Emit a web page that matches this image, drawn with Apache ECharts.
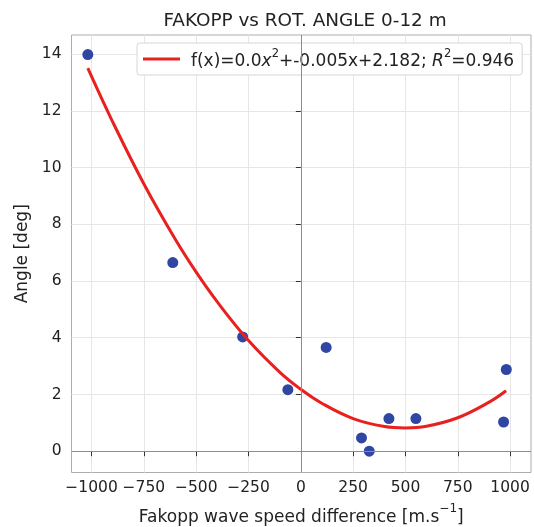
<!DOCTYPE html>
<html>
<head>
<meta charset="utf-8">
<script src="https://cdn.jsdelivr.net/npm/echarts@6/dist/echarts.min.js"></script>
<style>
html,body{margin:0;padding:0;background:#fff;}
#chart{width:534px;height:527px;}
</style>
</head>
<body>
<div id="chart"></div>
<script>
// Measured data points (Fakopp wave speed difference vs angle)
var speedDiff = [-1018, -612, -278, -62, 121, 290, 327, 421, 550, 969, 982];
var angleDeg  = [13.98, 6.65, 4.03, 2.17, 3.66, 0.47, 0.0, 1.15, 1.15, 1.03, 2.88];

// Fitted curve
var fitX = [-1018, -900, -750, -600, -500, -400, -250, -100, 0, 100, 250, 400, 500, 600, 750, 900, 981];
var fitY = [13.5, 11.62, 9.42, 7.47, 6.31, 5.27, 3.9, 2.78, 2.18, 1.69, 1.15, 0.87, 0.82, 0.88, 1.18, 1.73, 2.13];

var xTicks = [-1000, -750, -500, -250, 0, 250, 500, 750, 1000];
var yTicks = [0, 2, 4, 6, 8, 10, 12, 14];

var titleText = 'FAKOPP vs ROT. ANGLE 0-12 m';
var fitName = 'fit';

var FONT = 'DejaVu Sans';
var chart = echarts.init(document.getElementById('chart'), null, {renderer: 'canvas'});

function fmt(v) { return v < 0 ? '\u2212' + Math.abs(v) : String(v); }

var gridColor = '#e6e6e6';
var option = {
  backgroundColor: '#ffffff',
  animation: false,
  title: {
    text: titleText,
    left: 300, top: 7, textAlign: 'center',
    textStyle: {fontFamily: FONT, fontSize: 18.4, fontWeight: 'normal', color: '#222'}
  },
  grid: {
    left: 71.5, right: 3, top: 35, bottom: 54.5,
    outerBoundsMode: 'none', containLabel: false,
    show: true, borderColor: '#adadad', borderWidth: 1, backgroundColor: 'transparent'
  },
  legend: {
    data: [fitName],
    left: 137, top: 43,
    padding: [5, 8, 5, 6],
    backgroundColor: '#fff',
    borderColor: '#d6d6d6', borderWidth: 1, borderRadius: 3,
    icon: 'rect', itemWidth: 37, itemHeight: 3,
    formatter: function () {
      return '{n|f(x)=0.0}{i|x}{s|2}{n|+-0.005x+2.182; }{i|R}{s|2}{n|=0.946}';
    },
    textStyle: {
      fontFamily: FONT, fontSize: 17, color: '#222', padding: [0, 0, 0, 6],
      rich: {
        n: {fontFamily: FONT, fontSize: 17, color: '#222', lineHeight: 22, verticalAlign: 'bottom'},
        i: {fontFamily: FONT, fontSize: 17, fontStyle: 'italic', color: '#222', lineHeight: 22, verticalAlign: 'bottom'},
        s: {fontFamily: FONT, fontSize: 11.5, color: '#222', verticalAlign: 'top', lineHeight: 12}
      }
    }
  },
  xAxis: {
    type: 'value', min: -1096, max: 1100,
    name: '{n|Fakopp wave speed difference [m.s}{s|\u22121}{n|]}',
    nameLocation: 'middle', nameGap: 30,
    nameTextStyle: {
      fontFamily: FONT, fontSize: 17, color: '#222',
      rich: {
        n: {fontFamily: FONT, fontSize: 17, color: '#222', lineHeight: 24, verticalAlign: 'bottom'},
        s: {fontFamily: FONT, fontSize: 12, color: '#222', verticalAlign: 'top', lineHeight: 13}
      }
    },
    axisLine: {show: false},
    axisTick: {show: true, customValues: xTicks, length: 5, lineStyle: {color: '#333', width: 1}},
    axisLabel: {customValues: xTicks, formatter: fmt, margin: 7, fontFamily: FONT, fontSize: 15.5, color: '#222'},
    splitLine: {show: true, lineStyle: {color: gridColor, width: 1}}
  },
  yAxis: {
    type: 'value', min: -0.75, max: 14.67,
    name: 'Angle [deg]',
    nameLocation: 'middle', nameGap: 39,
    nameTextStyle: {fontFamily: FONT, fontSize: 17, color: '#222'},
    axisLine: {show: false},
    axisTick: {show: true, customValues: yTicks, length: 5, lineStyle: {color: '#333', width: 1}},
    axisLabel: {customValues: yTicks, formatter: fmt, margin: 10, fontFamily: FONT, fontSize: 15.5, color: '#222'},
    splitLine: {show: true, lineStyle: {color: gridColor, width: 1}}
  },
  series: [
    {
      name: 'zero', type: 'line', data: [], z: 1, silent: true,
      markLine: {
        silent: true, symbol: 'none', animation: false,
        label: {show: false},
        lineStyle: {color: '#8c8c8c', width: 1, type: 'solid'},
        data: [{xAxis: 0}, {yAxis: 0}]
      }
    },
    {
      name: 'data', type: 'scatter', z: 3,
      data: speedDiff.map(function (x, i) { return [x, angleDeg[i]]; }),
      symbol: 'circle', symbolSize: 11,
      itemStyle: {color: '#2f47a3', opacity: 1}
    },
    {
      name: fitName, type: 'line', z: 4, smooth: 0.4,
      data: fitX.map(function (x, i) { return [x, fitY[i]]; }),
      showSymbol: false, symbol: 'none',
      lineStyle: {color: '#e8211f', width: 3},
      itemStyle: {color: '#e8211f'}
    }
  ]
};
chart.setOption(option);
</script>
</body>
</html>
